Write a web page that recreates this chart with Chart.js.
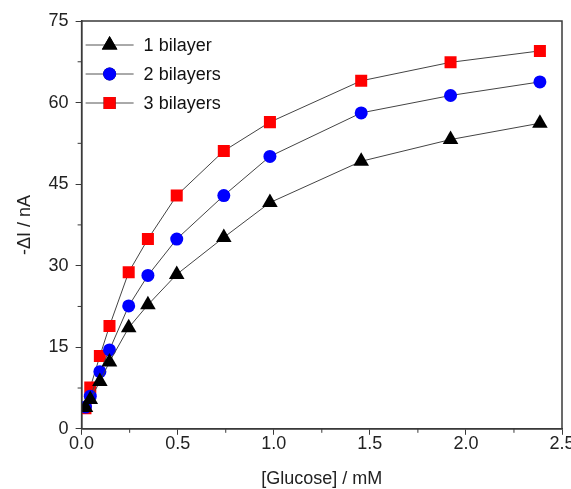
<!DOCTYPE html>
<html lang="en">
<head>
    <meta charset="UTF-8">
    <title>Glucose response</title>
    <script src="https://cdn.jsdelivr.net/npm/chart.js"></script>
</head>
<body>
<div class="frame">
    <canvas id="glucoseChart" width="571" height="489"></canvas>
</div>

<script>
    // data
    const glucose = [0.02, 0.045, 0.095, 0.145, 0.245, 0.345, 0.495, 0.74, 0.98, 1.455, 1.92, 2.385];
    const oneBilayer = [3.9, 5.4, 8.7, 12.3, 18.6, 22.8, 28.4, 35.2, 41.6, 49.2, 53.2, 56.2];
    const twoBilayers = [4.0, 6.0, 10.5, 14.5, 22.6, 28.2, 34.9, 42.9, 50.1, 58.1, 61.3, 63.8];
    const threeBilayers = [3.8, 7.6, 13.4, 18.9, 28.8, 34.9, 42.9, 51.1, 56.4, 64.0, 67.4, 69.5];
    const seriesNames = ['1 bilayer', '2 bilayers', '3 bilayers'];
    const xMinorTicks = [0.25, 0.75, 1.25, 1.75, 2.25];
    const yMinorTicks = [7.5, 22.5, 37.5, 52.5, 67.5];

    const toPoints = (ys) => ys.map((y, i) => ({ x: glucose[i], y: y }));
    const axisColor = '#3a3a3a';
    const fontFamily = 'Arial, "Liberation Sans", sans-serif';

    // box around the plot, minor ticks and the legend inside the plot
    const framePlugin = {
        id: 'framePlugin',
        afterDraw(chart) {
            const ctx = chart.ctx;
            const a = chart.chartArea;
            const xs = chart.scales.x;
            const ys = chart.scales.y;
            ctx.save();
            ctx.strokeStyle = axisColor;
            ctx.lineWidth = 1.5;
            ctx.strokeRect(a.left, a.top, a.right - a.left, a.bottom - a.top);

            ctx.lineWidth = 1;
            ctx.beginPath();
            xMinorTicks.forEach((v) => {
                const px = xs.getPixelForValue(v);
                ctx.moveTo(px, a.bottom);
                ctx.lineTo(px, a.bottom + 4);
            });
            yMinorTicks.forEach((v) => {
                const py = ys.getPixelForValue(v);
                ctx.moveTo(a.left, py);
                ctx.lineTo(a.left - 4, py);
            });
            ctx.stroke();

            // legend
            ctx.font = '18px ' + fontFamily;
            ctx.textBaseline = 'middle';
            chart.data.datasets.forEach((ds, i) => {
                const y = a.top + 24 + i * 29;
                const x0 = a.left + 4;
                ctx.strokeStyle = '#555';
                ctx.lineWidth = 1;
                ctx.beginPath();
                ctx.moveTo(x0, y);
                ctx.lineTo(x0 + 48, y);
                ctx.stroke();
                Chart.helpers.drawPoint(ctx, {
                    pointStyle: ds.pointStyle,
                    radius: ds.pointRadius,
                    borderWidth: 0
                }, x0 + 24, y);
                ctx.fillStyle = ds.pointBackgroundColor;
                ctx.fill();
                ctx.fillStyle = '#111';
                ctx.fillText(ds.label, x0 + 58, y + 1);
            });
            ctx.restore();
        }
    };

    const ctx = document.getElementById('glucoseChart').getContext('2d');
    new Chart(ctx, {
        type: 'line',
        data: {
            datasets: [
                {
                    label: seriesNames[0],
                    data: toPoints(oneBilayer),
                    borderColor: '#444',
                    borderWidth: 1,
                    pointStyle: 'triangle',
                    pointRadius: 9,
                    pointBackgroundColor: '#000000',
                    pointBorderColor: '#000000',
                    pointBorderWidth: 0
                },
                {
                    label: seriesNames[1],
                    data: toPoints(twoBilayers),
                    borderColor: '#444',
                    borderWidth: 1,
                    pointStyle: 'circle',
                    pointRadius: 6.5,
                    pointBackgroundColor: '#0000ff',
                    pointBorderColor: '#0000ff',
                    pointBorderWidth: 0
                },
                {
                    label: seriesNames[2],
                    data: toPoints(threeBilayers),
                    borderColor: '#444',
                    borderWidth: 1,
                    pointStyle: 'rect',
                    pointRadius: 8.5,
                    pointBackgroundColor: '#ff0000',
                    pointBorderColor: '#ff0000',
                    pointBorderWidth: 0
                }
            ]
        },
        options: {
            responsive: false,
            animation: false,
            layout: { padding: { top: 21, right: 8, left: 14, bottom: 0 } },
            plugins: {
                legend: { display: false },
                tooltip: { enabled: false }
            },
            scales: {
                x: {
                    type: 'linear',
                    min: 0,
                    max: 2.5,
                    afterFit: (scale) => { scale.paddingRight = 0; },
                    ticks: {
                        stepSize: 0.5,
                        callback: (v) => v.toFixed(1),
                        color: '#222',
                        font: { family: fontFamily, size: 18 },
                        padding: -2
                    },
                    grid: { drawOnChartArea: false, tickLength: 6, color: axisColor },
                    border: { color: axisColor, width: 1.5 },
                    title: {
                        display: true,
                        text: '[Glucose] / mM',
                        color: '#222',
                        font: { family: fontFamily, size: 18 },
                        padding: { top: 16, bottom: -1 }
                    }
                },
                y: {
                    min: 0,
                    max: 75,
                    ticks: {
                        stepSize: 15,
                        color: '#222',
                        font: { family: fontFamily, size: 18 },
                        padding: 7
                    },
                    grid: { drawOnChartArea: false, tickLength: 6, color: axisColor },
                    border: { color: axisColor, width: 1.5 },
                    title: {
                        display: true,
                        text: '-ΔI / nA',
                        color: '#222',
                        font: { family: fontFamily, size: 18 },
                        padding: { top: 0, bottom: 6 }
                    }
                }
            }
        },
        plugins: [framePlugin]
    });
</script>

<style>
    body {
        margin: 0;
        background-color: white;
        overflow: hidden;
    }
    .frame {
        width: 571px;
        height: 489px;
    }
</style>
</body>
</html>
